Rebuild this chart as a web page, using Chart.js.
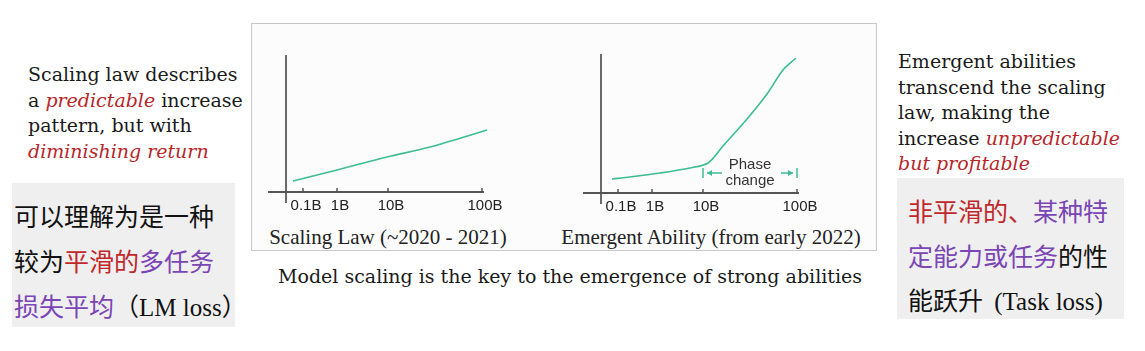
<!DOCTYPE html>
<html>
<head>
<meta charset="utf-8">
<script src="https://cdn.jsdelivr.net/npm/chart.js@4"></script>
<style>
  html, body { margin: 0; padding: 0; }
  body { width: 1145px; height: 351px; background: #fff; position: relative; overflow: hidden; }
  .note { position: absolute; font-family: "DejaVu Serif", serif; font-size: 19px; line-height: 25.5px; color: #1a1a1a; white-space: nowrap; }
  .note em { color: #b8262a; }
  .cn { position: absolute; background: #efefef; font-family: "Noto Sans CJK SC", sans-serif; font-size: 25px; color: #111; white-space: nowrap; box-sizing: border-box; }
  .cn .r { color: #c0282b; }
  .cn .p { color: #7a45b5; }
  .cn .lat { font-family: "Liberation Serif", serif; }
  #frame { position: absolute; left: 251px; top: 23px; width: 624px; height: 226px; border: 1px solid #c9c9c9; background: #fcfcfc; }
  canvas { position: absolute; }
  .title { position: absolute; font-family: "Liberation Serif", serif; font-size: 21px; line-height: 24px; color: #222; white-space: nowrap; transform: translateX(-50%); }
  #caption { position: absolute; left: 278px; top: 264px; font-family: "DejaVu Serif", serif; font-size: 19px; line-height: 24px; color: #1a1a1a; white-space: nowrap; }
</style>
</head>
<body>

<div class="note" style="left:28px; top:62px;">
  Scaling law describes<br>
  a <em>predictable</em> increase<br>
  pattern, but with<br>
  <em>diminishing return</em>
</div>

<div class="cn" style="left:12px; top:183px; width:223px; height:144px; padding:10px 0 0 2px; line-height:45px;">
  可以理解为是一种<br>
  较为<span class="r">平滑的</span><span class="p">多任务</span><br>
  <span class="p">损失平均</span>（<span class="lat">LM loss</span>）
</div>

<div id="frame"></div>
<canvas id="chartScaling" width="250" height="180" style="left:262px; top:45px;"></canvas>
<canvas id="chartEmergent" width="250" height="180" style="left:577px; top:45px;"></canvas>
<div class="title" style="left:388px; top:225px;">Scaling Law (~2020 - 2021)</div>
<div class="title" style="left:711px; top:225px;">Emergent Ability (from early 2022)</div>

<div id="caption">Model scaling is the key to the emergence of strong abilities</div>

<div class="note" style="left:898px; top:49px;">
  Emergent abilities<br>
  transcend the scaling<br>
  law, making the<br>
  increase <em>unpredictable</em><br>
  <em>but profitable</em>
</div>

<div class="cn" style="left:897px; top:178px; width:227px; height:141px; padding:10px 0 0 11px; line-height:44.5px;">
  <span class="r">非平滑的、</span><span class="p">某种特</span><br>
  <span class="p">定能力或任务</span>的性<br>
  能跃升&nbsp;&nbsp;<span class="lat">(Task loss)</span>
</div>

<script>
// model size ticks (schematic axis, not true log spacing)
const tickLabels = ['0.1B', '1B', '10B', '100B'];
const tickPositions = [17, 51, 102, 196];

// Scaling law curve
const scalingX = [7, 51, 101, 144, 201];
const scalingY = [11, 22, 35, 45, 62];

// Emergent ability curve
const emergentX = [11, 29, 59, 89, 107, 122, 146, 166, 182, 195];
const emergentY = [14, 16, 20, 25, 30, 47, 74, 99, 123, 135];

// phase change spans 10B .. 100B
const phaseLabel = ['Phase', 'change'];

const lineColor = '#3dbd94';

// draws the crossed axes, tick marks and labels
const axesPlugin = {
    id: 'sketchAxes',
    afterDraw(chart, args, opts) {
        const ctx = chart.ctx;
        const xs = chart.scales.x;
        const ys = chart.scales.y;
        const x0 = xs.getPixelForValue(0);
        const y0 = ys.getPixelForValue(0);

        ctx.save();
        // y axis
        ctx.strokeStyle = '#3a3a3a';
        ctx.lineWidth = 1.5;
        ctx.beginPath();
        ctx.moveTo(x0, ys.getPixelForValue(opts.yTop));
        ctx.lineTo(x0, ys.getPixelForValue(-11));
        ctx.stroke();

        // x axis
        ctx.strokeStyle = '#555';
        ctx.lineWidth = 2;
        ctx.beginPath();
        ctx.moveTo(xs.getPixelForValue(-18), y0);
        ctx.lineTo(xs.getPixelForValue(198), y0);
        ctx.stroke();

        // ticks + labels
        ctx.lineWidth = 1.5;
        ctx.fillStyle = '#222';
        ctx.font = '15px "Liberation Sans", Arial, sans-serif';
        ctx.textAlign = 'center';
        ctx.textBaseline = 'middle';
        tickPositions.forEach((p, i) => {
            const px = xs.getPixelForValue(p);
            ctx.beginPath();
            ctx.moveTo(px, y0 - 4);
            ctx.lineTo(px, y0);
            ctx.stroke();
            ctx.fillText(tickLabels[i], px + 3, y0 + 14);
        });

        if (opts.phase) {
            const left = xs.getPixelForValue(tickPositions[2]);
            const right = xs.getPixelForValue(tickPositions[3]);
            const ya = ys.getPixelForValue(20);
            ctx.strokeStyle = lineColor;
            ctx.fillStyle = lineColor;
            ctx.lineWidth = 1.5;
            // bars + arrows
            ctx.beginPath();
            ctx.moveTo(left, ya - 5); ctx.lineTo(left, ya + 5);
            ctx.moveTo(left + 4, ya); ctx.lineTo(left + 19, ya);
            ctx.moveTo(right, ya - 5); ctx.lineTo(right, ya + 5);
            ctx.moveTo(right - 16, ya); ctx.lineTo(right - 4, ya);
            ctx.stroke();
            ctx.beginPath();
            ctx.moveTo(left + 4, ya); ctx.lineTo(left + 9, ya - 3); ctx.lineTo(left + 9, ya + 3); ctx.closePath();
            ctx.moveTo(right - 4, ya); ctx.lineTo(right - 9, ya - 3); ctx.lineTo(right - 9, ya + 3); ctx.closePath();
            ctx.fill();

            const mid = (left + right) / 2;
            ctx.fillStyle = '#333';
            ctx.font = '15px "Liberation Sans", Arial, sans-serif';
            ctx.fillText(phaseLabel[0], mid, ys.getPixelForValue(28));
            ctx.fillText(phaseLabel[1], mid, ys.getPixelForValue(12));
        }
        ctx.restore();
    }
};

function makeChart(id, xs, ys, yMin, yMax, extra) {
    const ctx = document.getElementById(id).getContext('2d');
    return new Chart(ctx, {
        type: 'line',
        data: {
            datasets: [{
                data: xs.map((x, i) => ({ x: x, y: ys[i] })),
                borderColor: lineColor,
                borderWidth: 1.6,
                pointRadius: 0,
                tension: 0.3,
                fill: false
            }]
        },
        options: {
            responsive: false,
            animation: false,
            devicePixelRatio: 1,
            layout: { padding: 0 },
            scales: {
                x: { type: 'linear', display: false, min: -24, max: 226 },
                y: { type: 'linear', display: false, min: yMin, max: yMax }
            },
            plugins: {
                legend: { display: false },
                tooltip: { enabled: false },
                sketchAxes: extra
            }
        },
        plugins: [axesPlugin]
    });
}

makeChart('chartScaling', scalingX, scalingY, -33, 147, { yTop: 137, phase: false });
makeChart('chartEmergent', emergentX, emergentY, -32, 148, { yTop: 139, phase: true });
</script>
</body>
</html>
